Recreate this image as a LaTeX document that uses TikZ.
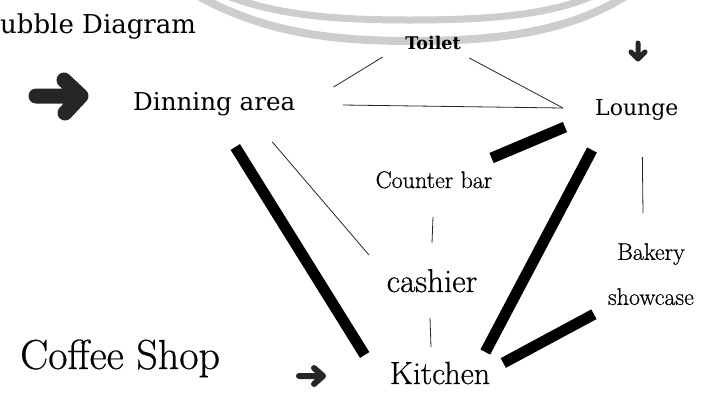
\documentclass[tikz,border=0pt]{standalone}
\usepackage{fontspec}
\newfontfamily\slabfont{DejaVu Serif}
\newfontfamily\plainfont{Latin Modern Roman}[FakeBold=0.6]
\usepackage{tikz}

\begin{document}
\begin{tikzpicture}[x=1pt,y=-1pt,
  thinlink/.style={draw=black!85,line width=0.8pt},
  thicklink/.style={draw=black,line width=11pt},
  band/.style={draw=arcgray,line width=8pt},
  pointer/.style={draw=black!85,line cap=round,line join=round},
  room/.style={inner sep=0pt,anchor=base}]
\definecolor{arcgray}{HTML}{CDCDCD}
\useasboundingbox (0,0) rectangle (720,405);
% background arcs
\draw[band] (200,-3) .. controls (262,30) and (322,41) .. (412,41) .. controls (505,41) and (570,30) .. (624,-3);
\draw[band,line width=7pt] (230,-3) .. controls (282,16) and (340,20) .. (410,20) .. controls (482,20) and (545,16) .. (590,-3);
% titles
\node[room,anchor=base west,font=\slabfont\fontsize{26}{26}\selectfont] (title) at (0,33) {ubble Diagram};
\node[room,anchor=base west,font=\plainfont\fontsize{42}{42}\selectfont] (coffee) at (20,369) {Coffee Shop};
% rooms
\node[room,anchor=base west,font=\slabfont\fontsize{24.6}{24.6}\selectfont] (din) at (133,110) {Dinning area};
\node[room,font=\slabfont\bfseries\fontsize{17.5}{17.5}\selectfont] (toilet) at (433,49) {Toilet};
\node[room,anchor=base west,font=\slabfont\fontsize{22}{22}\selectfont] (lounge) at (595,115) {Lounge};
\node[room,font=\plainfont\fontsize{24}{24}\selectfont] (counter) at (434,188) {Counter bar};
\node[room,font=\plainfont\fontsize{33}{33}\selectfont] (cashier) at (432,292) {cashier};
\node[room,anchor=north,align=center,font=\plainfont\fontsize{24}{45}\selectfont] (bakery) at (651,243) {Bakery\\showcase};
\node[room,font=\plainfont\fontsize{32}{32}\selectfont] (kitchen) at (440,384) {Kitchen};
% pointers
\draw[pointer,line width=15pt] (36,96) -- (80,96) (64,80) -- (81,96) -- (65,113);
\draw[pointer,line width=5pt] (638,43) -- (638,58) (631,52) -- (638,59) -- (645,52);
\draw[pointer,line width=6pt] (299,376) -- (322,376) (314,368) -- (323,376) -- (314,384);
% weak links
\draw[thinlink] ([shift={(38,-23)}]din.base east) -- ([shift={(-22.5,8)}]toilet.base west);
\draw[thinlink] ([shift={(8.5,9)}]toilet.base east) -- ([shift={(-32,-7)}]lounge.base west);
\draw[thinlink] ([shift={(47,-5)}]din.base east) -- ([shift={(-32,-7)}]lounge.base west);
\draw[thinlink] ([shift={(58,32)}]din.base) -- ([shift={(-17.5,-37)}]cashier.base west);
\draw[thinlink] ([shift={(-1,29)}]counter.base) -- ([shift={(0,-49)}]cashier.base);
\draw[thinlink] ([shift={(-2,26)}]cashier.base) -- ([shift={(-9,-37)}]kitchen.base);
\draw[thinlink] ([shift={(5.5,42)}]lounge.base) -- ([shift={(-8,-30)}]bakery.north);
% strong links
\draw[thicklink] ([shift={(21,37)}]din.base) -- ([shift={(-25,-29)}]kitchen.base west);
\draw[thicklink] ([shift={(-30,12)}]lounge.base west) -- ([shift={(-1,-30)}]counter.base east);
\draw[thicklink] ([shift={(-3,35)}]lounge.base west) -- ([shift={(-5,-32)}]kitchen.base east);
\draw[thicklink] ([shift={(13,-21)}]kitchen.base east) -- ([shift={(-14,9)}]bakery.south west);
\end{tikzpicture}
\end{document}
